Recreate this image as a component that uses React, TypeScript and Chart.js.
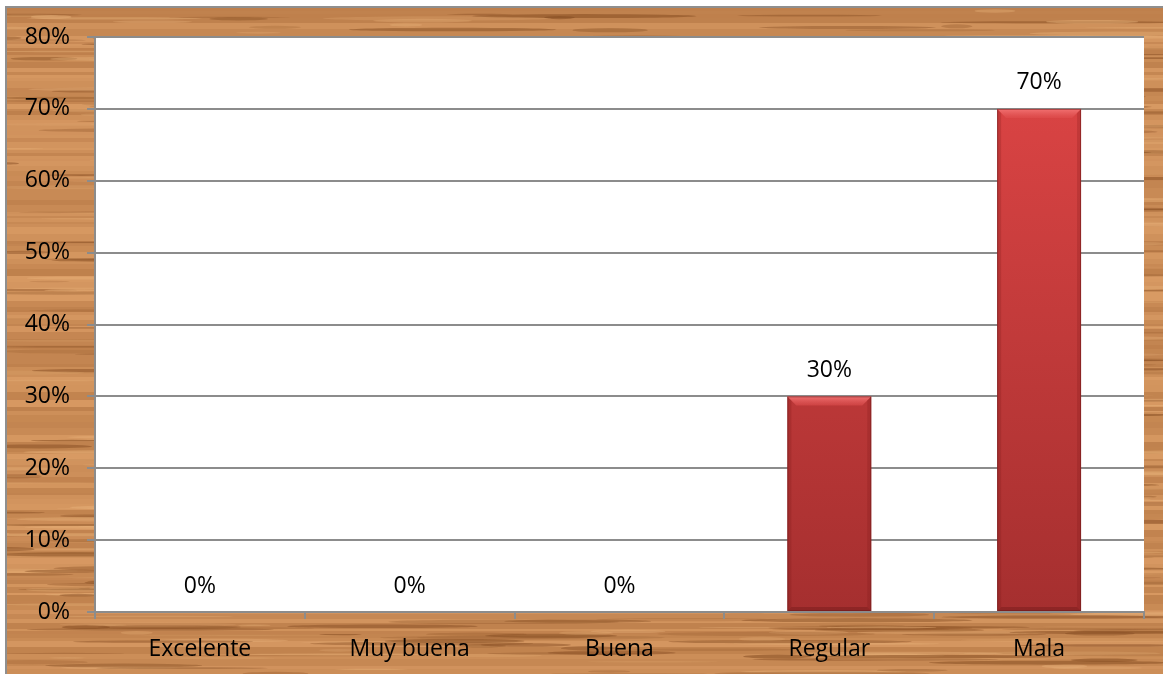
import React, { useEffect, useRef } from "react";
import { Chart, registerables } from "chart.js";

Chart.register(...registerables);

const categories = ["Excelente", "Muy buena", "Buena", "Regular", "Mala"];
const values = [0, 0, 0, 30, 70];
const yMax = 80;
const yStep = 10;

const W = 1163;
const H = 674;
const FONT = "'Open Sans', 'Liberation Sans', sans-serif";
const GRID = "#8c8c8c";

function mulberry32(a: number) {
  return function () {
    a |= 0;
    a = (a + 0x6d2b79f5) | 0;
    let t = Math.imul(a ^ (a >>> 15), 1 | a);
    t = (t + Math.imul(t ^ (t >>> 7), 61 | t)) ^ t;
    return ((t ^ (t >>> 14)) >>> 0) / 4294967296;
  };
}

const backgroundPlugin = {
  id: "woodBg",
  beforeDraw(chart: any) {
    const ctx = chart.ctx as CanvasRenderingContext2D;
    const { left, right, top, bottom } = chart.chartArea;
    ctx.save();
    ctx.fillStyle = "#ffffff";
    ctx.fillRect(0, 0, W, H);
    const ox = 7, oy = 8;
    ctx.beginPath();
    ctx.rect(ox, oy, W - ox, H - oy);
    ctx.clip();
    ctx.fillStyle = "#cc8f58";
    ctx.fillRect(ox, oy, W - ox, H - oy);
    const rnd = mulberry32(24681);
    let y = oy;
    while (y < H) {
      const h = 2 + Math.floor(rnd() * 6);
      const t = rnd();
      const r = Math.round(180 + t * 45);
      const g = Math.round(118 + t * 45);
      const b = Math.round(68 + t * 40);
      ctx.fillStyle = `rgba(${r},${g},${b},0.6)`;
      ctx.fillRect(ox, y, W - ox, h);
      y += h;
    }
    for (let i = 0; i < 1000; i++) {
      const sx = ox + rnd() * (W - ox) - 60;
      const sy = oy + rnd() * (H - oy);
      const len = 30 + rnd() * 220;
      const th = 1 + rnd() * 3.5;
      const dark = rnd() < 0.55;
      ctx.fillStyle = dark
        ? `rgba(135,78,35,${0.18 + rnd() * 0.4})`
        : `rgba(232,178,122,${0.15 + rnd() * 0.35})`;
      ctx.beginPath();
      ctx.ellipse(sx + len / 2, sy, len / 2, th / 2, 0, 0, Math.PI * 2);
      ctx.fill();
    }
    ctx.restore();
    ctx.save();
    ctx.strokeStyle = "#8f8f8f";
    ctx.lineWidth = 2;
    ctx.beginPath();
    ctx.moveTo(6, H);
    ctx.lineTo(6, 7);
    ctx.lineTo(W, 7);
    ctx.stroke();
    ctx.fillStyle = "#ffffff";
    ctx.fillRect(left, top, right - left, bottom - top);
    ctx.restore();
  },
};

const barDecorPlugin = {
  id: "barDecor",
  afterDatasetsDraw(chart: any) {
    const ctx = chart.ctx as CanvasRenderingContext2D;
    const meta = chart.getDatasetMeta(0);
    ctx.save();
    meta.data.forEach((bar: any, i: number) => {
      const x0 = bar.x - bar.width / 2;
      const x1 = bar.x + bar.width / 2;
      const yTop = bar.y;
      const yBot = bar.base;
      const h = yBot - yTop;
      if (h > 1) {
        const bv = 9;
        const tg = ctx.createLinearGradient(0, yTop, 0, yTop + bv);
        tg.addColorStop(0, "rgba(245,120,120,0.9)");
        tg.addColorStop(1, "rgba(225,80,80,0.5)");
        ctx.fillStyle = tg;
        ctx.beginPath();
        ctx.moveTo(x0, yTop);
        ctx.lineTo(x1, yTop);
        ctx.lineTo(x1 - bv, yTop + bv);
        ctx.lineTo(x0 + bv, yTop + bv);
        ctx.closePath();
        ctx.fill();
        ctx.fillStyle = "rgba(120,25,25,0.22)";
        ctx.beginPath();
        ctx.moveTo(x0, yTop);
        ctx.lineTo(x0 + 4, yTop + 4);
        ctx.lineTo(x0 + 4, yBot - 4);
        ctx.lineTo(x0, yBot);
        ctx.closePath();
        ctx.fill();
        ctx.beginPath();
        ctx.moveTo(x1, yTop);
        ctx.lineTo(x1 - 4, yTop + 4);
        ctx.lineTo(x1 - 4, yBot - 4);
        ctx.lineTo(x1, yBot);
        ctx.closePath();
        ctx.fill();
        ctx.fillStyle = "rgba(100,20,20,0.35)";
        ctx.beginPath();
        ctx.moveTo(x0, yBot);
        ctx.lineTo(x1, yBot);
        ctx.lineTo(x1 - 4, yBot - 4);
        ctx.lineTo(x0 + 4, yBot - 4);
        ctx.closePath();
        ctx.fill();
        ctx.strokeStyle = "rgba(110,25,25,0.55)";
        ctx.lineWidth = 1;
        ctx.strokeRect(x0 + 0.5, yTop + 0.5, x1 - x0 - 1, h - 1);
      }
      ctx.fillStyle = "#000000";
      ctx.font = `23px ${FONT}`;
      ctx.textAlign = "center";
      ctx.textBaseline = "middle";
      ctx.fillText(values[i] + "%", bar.x, yTop - 26);
    });
    ctx.restore();
  },
};

export default function App() {
  const ref = useRef<HTMLCanvasElement | null>(null);
  useEffect(() => {
    document.body.style.margin = "0";
    const canvas = ref.current!;
    const chart = new Chart(canvas, {
      type: "bar",
      data: {
        labels: categories,
        datasets: [
          {
            data: values,
            backgroundColor: (c: any) => {
              const ch = c.chart;
              const area = ch.chartArea;
              if (!area) return "#c83c3c";
              const g = ch.ctx.createLinearGradient(0, area.top, 0, area.bottom);
              g.addColorStop(0, "#e04646");
              g.addColorStop(1, "#a52f2f");
              return g;
            },
            borderWidth: 0,
            barPercentage: 0.4,
            categoryPercentage: 1,
          },
        ],
      },
      options: {
        animation: false,
        responsive: false,
        devicePixelRatio: 1,
        layout: { padding: { left: 0, top: 37, right: 19, bottom: 0 } },
        plugins: {
          legend: { display: false },
          tooltip: { enabled: false },
          title: { display: false },
        },
        scales: {
          x: {
            afterFit: (s: any) => {
              s.height = 62;
            },
            grid: {
              drawOnChartArea: false,
              drawTicks: true,
              tickLength: 7,
              color: GRID,
              lineWidth: 2,
              offset: true,
            },
            border: { display: true, color: GRID, width: 2 },
            ticks: {
              color: "#000000",
              font: { family: FONT, size: 23 },
              padding: 17,
              maxRotation: 0,
              autoSkip: false,
            },
          },
          y: {
            min: 0,
            max: yMax,
            afterFit: (s: any) => {
              s.width = 95;
            },
            grid: {
              color: GRID,
              lineWidth: 2,
              tickLength: 8,
              drawTicks: true,
            },
            border: { display: true, color: GRID, width: 2 },
            ticks: {
              stepSize: yStep,
              color: "#000000",
              font: { family: FONT, size: 23 },
              padding: 17,
              callback: (v: any) => v + "%",
            },
          },
        },
      },
      plugins: [backgroundPlugin, barDecorPlugin],
    });
    return () => chart.destroy();
  }, []);
  return (
    <div style={{ position: "absolute", left: 0, top: 0, width: W, height: H }}>
      <canvas ref={ref} width={W} height={H} style={{ width: W, height: H, display: "block" }} />
    </div>
  );
}
